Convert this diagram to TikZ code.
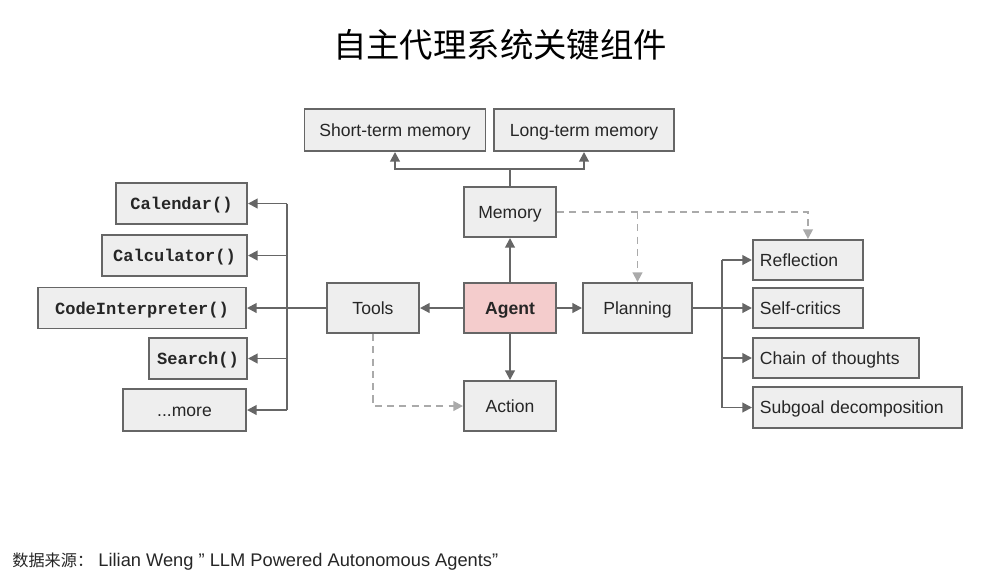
\documentclass[tikz,border=0pt]{standalone}
\usepackage{fontspec}
\setmainfont{Liberation Sans}
\setmonofont{Liberation Mono}
\newfontfamily\cjk{Noto Sans CJK SC}
\usetikzlibrary{arrows.meta}
\definecolor{boxfill}{HTML}{EEEEEE}
\definecolor{boxline}{HTML}{666666}
\definecolor{txt}{HTML}{262626}
\definecolor{agentfill}{HTML}{F4CCCC}
\definecolor{dashc}{HTML}{AAAAAA}
\tikzset{
  box/.style={draw=boxline, fill=boxfill, line width=1.1pt, text=txt, font=\fontsize{10}{12}\selectfont, inner sep=0pt, text height=8.2pt, text depth=1pt},
  wh/.style 2 args={minimum width=#1*0.02cm, minimum height=#2*0.02cm},
  lbox/.style={box, anchor=west, align=left, inner xsep=0.14cm, text width=#1*0.02cm},
  mono/.style={box, font=\fontsize{9.7}{12}\selectfont\ttfamily\bfseries},
  arr/.style={draw=boxline, line width=1.1pt, -{Triangle[length=5.5pt,width=5.5pt]}},
  ln/.style={draw=boxline, line width=1.1pt},
  dsh/.style={draw=dashc, line width=1.1pt, dash pattern=on 4pt off 3pt, -{Triangle[length=5.5pt,width=5.5pt]}},
}
\begin{document}
\begin{tikzpicture}[x=0.02cm, y=-0.02cm]
\useasboundingbox (0,0) rectangle (1000,583);
% title
\node[font=\cjk\fontsize{19}{22}\selectfont, text=black] (title) at (500,45) {自主代理系统关键组件};
% memory part
\node[box, wh={181}{42}] (stm) at (395,130) {Short-term memory};
\node[box, wh={180}{42}] (ltm) at (584,130) {Long-term memory};
\node[box, wh={92}{50}] (mem) at (510,212) {Memory};
% center
\node[box, wh={92}{50}, fill=agentfill, font=\fontsize{10}{12}\selectfont\bfseries] (agent) at (510,308) {Agent};
\node[box, wh={92}{50}] (tools) at (373,308) {Tools};
\node[box, wh={92}{50}] (action) at (510,406) {Action};
\node[box, wh={109}{50}] (plan) at (637.5,308) {Planning};
% planning children
\node[lbox=96, minimum height=40*0.02cm] (refl) at (752,260) {Reflection};
\node[lbox=96, minimum height=40*0.02cm] (self) at (752,308) {Self-critics};
\node[lbox=152, minimum height=40*0.02cm] (chain) at (752,358) {Chain of thoughts};
\node[lbox=195, minimum height=41*0.02cm] (sub) at (752,407.5) {Subgoal decomposition};
% tools children
\node[mono, wh={131}{41}] (cal) at (181.5,203.5) {Calendar()};
\node[mono, wh={145}{41}] (calc) at (174.5,255.5) {Calculator()};
\node[mono, wh={208}{41}] (code) at (142,308) {CodeInterpreter()};
\node[mono, wh={98}{41}] (search) at (198,358.5) {Search()};
\node[box, wh={123}{42}] (more) at (184.5,410) {...more};
% agent arrows
\draw[arr] (agent.north) -- (mem.south);
\draw[arr] (agent.west) -- (tools.east);
\draw[arr] (agent.east) -- (plan.west);
\draw[arr] (agent.south) -- (action.north);
% memory branches
\coordinate (mj) at (510,169);
\draw[ln] (mem.north) -- (mj);
\draw[arr] (mj) -| (stm.south);
\draw[arr] (mj) -| (ltm.south);
% tools bus
\coordinate (tb) at (287,308);
\draw[ln] (tools.west) -- (tb);
\draw[ln] (tb |- cal) -- (tb |- more);
\draw[arr] (tb |- cal) -- (cal.east);
\draw[arr] (tb |- calc) -- (calc.east);
\draw[arr] (tb) -- (code.east);
\draw[arr] (tb |- search) -- (search.east);
\draw[arr] (tb |- more) -- (more.east);
% planning bus
\coordinate (pb) at (722,308);
\draw[arr] (plan.east) -- (self.west);
\draw[ln] (pb |- refl.west) -- (pb |- sub.west);
\draw[arr] (pb |- refl.west) -- (refl.west);
\draw[arr] (pb |- chain.west) -- (chain.west);
\draw[arr] (pb |- sub.west) -- (sub.west);
% dashed
\draw[dsh] (mem.east) -| (refl.north);
\draw[dsh] (plan.north |- mem.east) -- (plan.north);
\draw[dsh] (tools.south) |- (action.west);
% footer
\node[anchor=west, font=\fontsize{10.4}{12}\selectfont, text=txt, inner sep=0pt] (foot) at (12,562) {{\cjk\fontsize{9.2}{11}\selectfont 数据来源：}\hspace{3pt}Lilian Weng ” LLM Powered Autonomous Agents”};
\end{tikzpicture}
\end{document}
